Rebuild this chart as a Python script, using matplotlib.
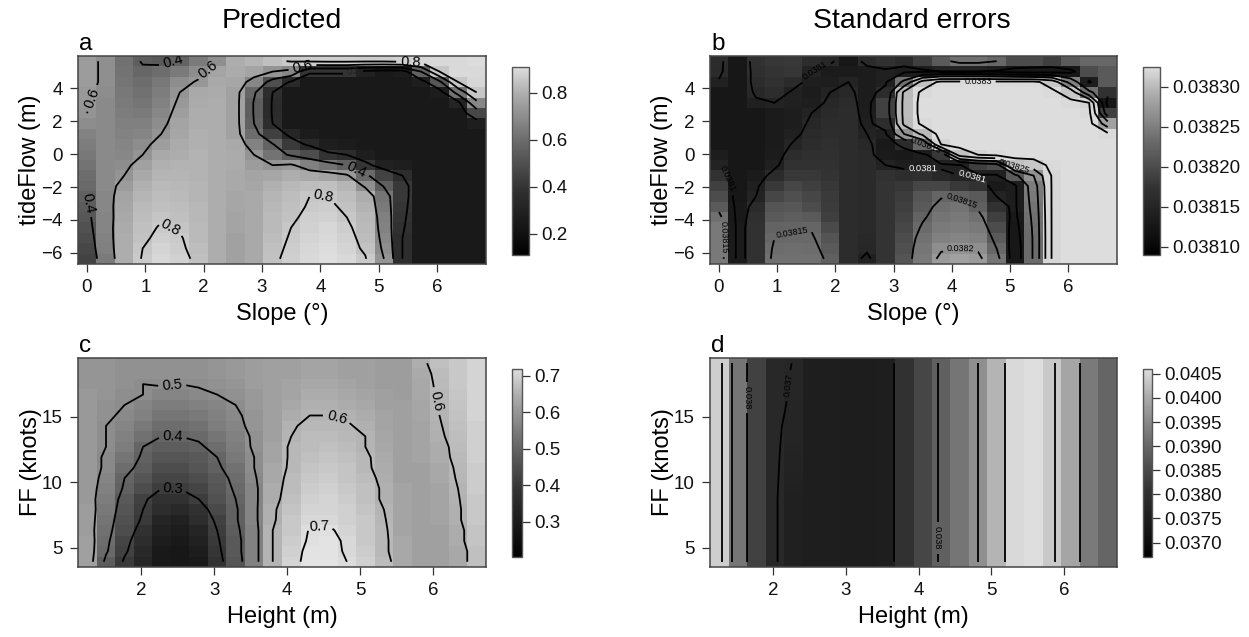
#!/usr/bin/env python3
"""Predicted values and standard errors as grey grids with contour lines."""

import numpy as np
import matplotlib
matplotlib.use("Agg")
import matplotlib.pyplot as plt
from matplotlib.cm import ScalarMappable
from matplotlib.colors import LinearSegmentedColormap, Normalize

# grid axes
slope = np.linspace(0.0, 6.68, 22)
tide_flow = np.linspace(-6.355, 5.635, 20)
height = np.linspace(1.26, 6.60, 22)
wind_ff = np.linspace(3.95, 19.10, 20)

# panel a, one list per column, bottom row first
predicted_slope = [
    [.28, .30, .32, .34, .36, .38, .40, .43, .45, .47, .49, .51, .53, .57, .60, .61, .62, .63, .63, .63],
    [.50, .52, .53, .54, .54, .55, .55, .56, .56, .56, .56, .56, .56, .56, .56, .56, .57, .58, .58, .58],
    [.70, .70, .70, .69, .68, .67, .66, .63, .60, .57, .55, .54, .53, .52, .51, .50, .49, .48, .47, .46],
    [.81, .80, .78, .77, .76, .75, .73, .71, .68, .65, .60, .57, .54, .52, .50, .48, .46, .45, .42, .39],
    [.86, .85, .83, .81, .79, .77, .76, .75, .73, .71, .68, .64, .60, .57, .55, .53, .51, .49, .45, .37],
    [.84, .82, .81, .79, .77, .76, .75, .74, .73, .72, .70, .69, .67, .66, .64, .62, .60, .57, .50, .41],
    [.77, .76, .75, .75, .74, .74, .73, .73, .72, .72, .72, .71, .71, .70, .70, .69, .68, .61, .57, .50],
    [.70, .70, .70, .70, .70, .70, .70, .70, .70, .70, .70, .70, .70, .70, .70, .70, .69, .68, .66, .58],
    [.65, .65, .65, .66, .66, .67, .67, .68, .68, .69, .69, .68, .65, .65, .65, .65, .65, .67, .69, .70],
    [.68, .68, .68, .68, .68, .68, .68, .67, .66, .63, .60, .53, .45, .40, .39, .39, .42, .55, .66, .73],
    [.78, .77, .76, .75, .75, .74, .73, .71, .67, .60, .47, .41, .27, .20, .19, .19, .20, .33, .60, .77],
    [.83, .82, .81, .80, .78, .77, .76, .74, .70, .62, .38, .25, .17, .12, .12, .12, .12, .18, .55, .81],
    [.87, .86, .85, .84, .83, .81, .80, .76, .68, .52, .32, .18, .13, .12, .12, .12, .12, .12, .22, .82],
    [.89, .88, .87, .86, .84, .82, .80, .77, .66, .47, .22, .14, .12, .12, .12, .12, .12, .12, .22, .83],
    [.87, .85, .84, .82, .80, .78, .76, .73, .62, .40, .20, .13, .12, .12, .12, .12, .12, .12, .22, .83],
    [.81, .78, .76, .75, .74, .72, .70, .58, .43, .23, .14, .12, .12, .12, .12, .12, .12, .12, .15, .82],
    [.60, .57, .55, .53, .52, .50, .48, .39, .28, .15, .12, .12, .12, .12, .12, .12, .12, .12, .12, .82],
    [.20, .20, .20, .21, .22, .23, .24, .24, .20, .14, .12, .12, .12, .12, .12, .12, .12, .12, .13, .84],
    [.12, .12, .12, .12, .12, .12, .12, .12, .12, .12, .12, .12, .12, .12, .12, .12, .12, .14, .40, .86],
    [.12, .12, .12, .12, .12, .12, .12, .12, .12, .12, .12, .12, .12, .12, .12, .12, .13, .36, .80, .87],
    [.12, .12, .12, .12, .12, .12, .12, .12, .12, .12, .12, .12, .12, .12, .12, .16, .47, .80, .87, .87],
    [.12, .12, .12, .12, .12, .12, .12, .12, .12, .12, .12, .12, .12, .14, .30, .55, .80, .86, .87, .88],
]

# panel b, in units of 1e-5 above 0.038
stderr_slope = [
    [17, 17, 17, 17, 16, 14, 13, 12, 11, 10, 9.5, 9, 9, 9, 9, 9, 9, 9.8, 10.5, 10.6],
    [9.3, 9.3, 9.3, 9.3, 9.2, 9.2, 9, 8.5, 8.5, 8.5, 8.5, 8.5, 8.5, 8.5, 8.5, 8.5, 8.5, 8.5, 8, 8],
    [11, 11, 11, 11, 10.8, 10.5, 10, 9.7, 9.3, 9, 9, 9, 9, 9, 9, 9.7, 10.3, 10.6, 10.8, 11],
    [16, 15.6, 15, 14.6, 14, 13.5, 12.5, 11.5, 10.5, 9.7, 9.4, 9.3, 9.3, 9.3, 9.3, 10, 10.7, 11, 11.2, 11.3],
    [16, 15.8, 15.3, 14.7, 14.3, 13.8, 13.2, 12.5, 11.5, 11, 10.6, 10.1, 9.7, 9.5, 9.5, 9.7, 9.8, 10.5, 11.3, 11.5],
    [16, 15.7, 15.3, 14.8, 14, 13, 12.5, 12, 11.5, 11, 10.8, 10.6, 10.4, 10.2, 10, 9.6, 9.4, 9.6, 10, 10.6],
    [14.5, 14, 13.5, 12.8, 12, 11.8, 11.6, 11.4, 11.2, 11, 10.9, 10.8, 10.7, 10.6, 10.4, 10.2, 10, 9.5, 9.3, 10.3],
    [10.6, 10.6, 10.6, 10.6, 10.6, 10.6, 10.6, 10.6, 10.6, 10.6, 10.6, 10.6, 10.6, 10.6, 10.6, 10.5, 10.3, 10, 9.3, 9],
    [9.7, 10.2, 10.3, 10.4, 10.4, 10.4, 10.4, 10.4, 10.4, 10.4, 10.4, 10.3, 10, 9.7, 9.5, 9.4, 9.4, 9.4, 9.4, 10.5],
    [11.2, 11.2, 11.2, 11.2, 11.2, 11.2, 11.2, 11.2, 11, 10, 9.3, 9.2, 9.7, 10.7, 12.2, 12.2, 10.6, 9.7, 9.7, 11],
    [13.5, 13.2, 13, 12.6, 12.3, 12, 11.8, 11.4, 10.7, 9.6, 9.2, 10.5, 20, 26, 26.3, 26.3, 26, 16, 9.5, 10.5],
    [17, 16.8, 16.2, 15.4, 14.6, 14, 13.6, 12.5, 10.8, 9.6, 9.5, 15, 26, 31, 31.4, 31.4, 31, 27, 9.5, 12],
    [21, 19.5, 18, 17.2, 16.5, 15.8, 14.8, 12.5, 10.3, 9.8, 11.5, 30, 31.5, 31.5, 31.5, 31.5, 31.5, 31, 10, 14],
    [22, 20, 18.5, 17.5, 17, 16.5, 14.5, 11.5, 10, 9.8, 27, 31.5, 31.5, 31.5, 31.5, 31.5, 31.5, 31, 10, 16],
    [21, 19.5, 18, 17, 16, 14.5, 14, 11, 9.8, 12, 30, 31.5, 31.5, 31.5, 31.5, 31.5, 31.5, 31, 10, 16],
    [16.5, 15, 14, 13, 12, 11, 10, 9.2, 9.7, 13, 31, 31.5, 31.5, 31.5, 31.5, 31.5, 31.5, 31, 9.5, 15],
    [7.5, 7.5, 8, 8.5, 9.2, 9.5, 9.5, 9.5, 14, 27, 31.5, 31.5, 31.5, 31.5, 31.5, 31.5, 31.5, 31, 8.5, 13],
    [15.5, 15.5, 15.5, 15.7, 16, 16.5, 17, 17.5, 20, 28, 31.5, 31.5, 31.5, 31.5, 31.5, 31.5, 31.5, 31, 8, 13],
    [30.5, 30.5, 30.5, 30.5, 30.5, 30.5, 30.5, 30.5, 30.5, 31, 31.5, 31.5, 31.5, 31.5, 31.5, 31.5, 31, 28, 8.5, 12],
    [31.5, 31.5, 31.5, 31.5, 31.5, 31.5, 31.5, 31.5, 31.5, 31.5, 31.5, 31.5, 31.5, 31.5, 31.5, 31, 28, 18, 9, 14],
    [31.5, 31.5, 31.5, 31.5, 31.5, 31.5, 31.5, 31.5, 31.5, 31.5, 31.5, 31.5, 31.5, 31.5, 31, 30, 16, 9.5, 13, 15],
    [31.5, 31.5, 31.5, 31.5, 31.5, 31.5, 31.5, 31.5, 31.5, 31.5, 31.5, 31.5, 31, 22, 12, 8.5, 11, 14, 14, 15],
]

# panel c
predicted_height = [
    [.55, .55, .55, .54, .54, .54, .53, .53, .53, .53, .53, .53, .53, .53, .53, .53, .53, .52, .52, .52],
    [.38, .41, .42, .43, .44, .45, .46, .47, .48, .49, .49, .50, .50, .50, .51, .51, .52, .52, .52, .52],
    [.29, .31, .32, .34, .35, .36, .37, .39, .40, .42, .44, .46, .47, .48, .49, .50, .505, .51, .51, .51],
    [.24, .25, .26, .27, .29, .30, .31, .34, .36, .38, .39, .40, .43, .45, .47, .48, .50, .50, .51, .51],
    [.21, .21, .22, .23, .24, .26, .27, .30, .32, .34, .36, .38, .40, .42, .44, .46, .48, .505, .51, .51],
    [.20, .20, .21, .22, .23, .25, .27, .30, .32, .34, .36, .38, .40, .42, .44, .46, .48, .50, .51, .51],
    [.21, .22, .23, .24, .26, .27, .30, .32, .34, .36, .37, .39, .41, .43, .45, .47, .49, .505, .51, .51],
    [.27, .28, .29, .30, .31, .33, .35, .36, .37, .39, .40, .42, .44, .46, .47, .48, .50, .51, .52, .52],
    [.36, .37, .37, .38, .39, .39, .40, .41, .42, .43, .45, .46, .47, .48, .49, .50, .51, .52, .53, .53],
    [.47, .47, .47, .47, .48, .48, .48, .48, .49, .50, .50, .51, .51, .52, .52, .53, .53, .54, .54, .54],
    [.60, .60, .60, .60, .59, .59, .58, .58, .57, .57, .56, .56, .55, .55, .55, .55, .55, .55, .55, .55],
    [.68, .67, .66, .65, .65, .64, .63, .62, .62, .61, .61, .61, .60, .595, .58, .57, .56, .56, .55, .55],
    [.72, .72, .71, .705, .69, .68, .67, .66, .65, .64, .63, .62, .62, .61, .60, .59, .58, .57, .56, .56],
    [.73, .73, .72, .71, .69, .68, .68, .67, .66, .65, .64, .63, .62, .61, .60, .59, .58, .57, .56, .56],
    [.70, .69, .69, .68, .67, .67, .66, .65, .64, .64, .63, .62, .61, .605, .595, .58, .57, .56, .55, .55],
    [.67, .66, .65, .65, .65, .64, .63, .63, .62, .61, .61, .60, .60, .59, .58, .57, .56, .55, .55, .55],
    [.62, .61, .61, .61, .605, .60, .59, .59, .585, .58, .575, .57, .565, .56, .56, .55, .55, .54, .54, .54],
    [.57, .57, .57, .56, .56, .56, .56, .56, .55, .55, .55, .55, .55, .55, .55, .55, .54, .54, .54, .54],
    [.55, .55, .55, .55, .55, .55, .55, .55, .55, .55, .56, .56, .56, .56, .565, .565, .57, .57, .575, .585],
    [.55, .55, .55, .55, .56, .56, .56, .56, .57, .57, .58, .58, .59, .595, .60, .605, .61, .615, .62, .63],
    [.57, .57, .58, .58, .59, .59, .595, .60, .605, .61, .615, .62, .625, .63, .635, .64, .645, .65, .65, .65],
    [.63, .63, .64, .64, .65, .65, .65, .66, .66, .66, .67, .67, .67, .67, .68, .68, .68, .68, .68, .68],
]

# panel d, columns barely change with FF; column 4 is the one that does
stderr_height = [.0402, .0385, .0375, .03702, .0369, .03685, .03685, .03683, .03682, .03684, .0372,
                 .0376, .0381, .0385, .0390, .0397, .0404, .0405, .0401, .0394, .0386, .0382]
stderr_height_col4 = [.03688, .03688, .03688, .03688, .03688, .03688, .03688, .0369, .036918, .03693,
                      .03694, .03695, .03696, .036968, .03698, .036987, .03699, .036993, .036995, .036998]

W, H = 1249, 637
DARK = "#333333"

plt.rcParams["font.family"] = ["Liberation Sans", "DejaVu Sans"]

# the cells are drawn lighter than the gradient in the key
cell_cmap = LinearSegmentedColormap.from_list("cells", [(0.09, 0.09, 0.09), (0.89, 0.89, 0.89)])
cell_cmap_b = LinearSegmentedColormap.from_list(
    "cells_b", [(p, (v, v, v)) for p, v in [(0, 0.09), (0.25, 0.40), (0.5, 0.60), (1, 0.89)]])
bar_cmap = LinearSegmentedColormap.from_list(
    "bar", [(p, (v, v, v)) for p, v in
            [(0, 0.0), (0.12, 0.07), (0.36, 0.20), (0.61, 0.42), (0.86, 0.68), (1, 0.87)]])

fig = plt.figure(figsize=(W / 100, H / 100), dpi=100)


def px_axes(left, top, right, bottom):
    return fig.add_axes([left / W, 1 - bottom / H, (right - left) / W, (bottom - top) / H])


def panel(box, xx, yy, zz, lims, levels, xlim, ylim, xticks, yticks, xlabel, ylabel, letter, cmap=cell_cmap):
    ax = px_axes(*box)
    ax.pcolormesh(xx, yy, zz, cmap=cmap, vmin=lims[0], vmax=lims[1], shading="nearest")
    # one contour set per level so each level can get its own labels
    lines = {}
    for level in levels:
        lines[level] = ax.contour(xx, yy, zz, levels=[level], colors="k", linewidths=1.3)
    ax.set_xlim(*xlim)
    ax.set_ylim(*ylim)
    ax.set_xticks(xticks)
    ax.set_yticks(yticks)
    ax.tick_params(length=6, width=0.9, color=DARK, labelsize=13.5, pad=5, labelcolor="#111111")
    ax.set_xlabel(xlabel, fontsize=17, labelpad=5)
    ax.set_ylabel(ylabel, fontsize=17, labelpad=0)
    for spine in ax.spines.values():
        spine.set_color("#444444")
        spine.set_linewidth(1.1)
    fig.text((box[0] + 1) / W, 1 - (box[1] - 6) / H, letter, fontsize=17.5, ha="left", va="baseline")
    return ax, lines


def key(box, lims, ticks, fmt):
    cax = px_axes(*box)
    bar = fig.colorbar(ScalarMappable(Normalize(*lims), bar_cmap), cax=cax, ticks=ticks, format=fmt)
    bar.outline.set_edgecolor("#555555")
    bar.outline.set_linewidth(1.0)
    cax.tick_params(length=6, width=0.9, color=DARK, labelsize=13.5, pad=3, labelcolor="#111111")


def labels(ax, cs, where, size, color="k"):
    ax.clabel(cs, manual=where, fontsize=size, colors=color, fmt="%g", inline_spacing=4)


# a
z_a = np.array(predicted_slope).T
lim_a = (0.11, 0.91)
ax_a, cs_a = panel((78, 56, 486, 264), slope, tide_flow, z_a, lim_a, [0.2, 0.4, 0.6, 0.8],
                   (-0.154, 6.84), (-6.67, 5.95), range(7), range(-6, 5, 2),
                   "Slope (°)", "tideFlow (m)", "a")
labels(ax_a, cs_a[0.4], [(1.48, 5.46), (0.05, -2.96), (4.6, -1.07)], 10.5)
labels(ax_a, cs_a[0.6], [(0.14, 3.32), (2.11, 4.97), (3.69, 5.34)], 10.5)
labels(ax_a, cs_a[0.8], [(5.54, 5.27), (4.05, -2.96), (1.39, -4.73)], 10.5)
labels(ax_a, cs_a[0.2], [(4.56, 4.85)], 6.5, "#222222")
key((512, 67, 529, 255), lim_a, [0.2, 0.4, 0.6, 0.8], "%.1f")

# b
z_b = 0.038 + np.array(stderr_slope).T * 1e-5
lim_b = (0.03809, 0.038325)
ax_b, cs_b = panel((710, 56, 1117, 264), slope, tide_flow, z_b, lim_b,
                   [0.0381, 0.03815, 0.0382, 0.03825, 0.0383],
                   (-0.154, 6.84), (-6.67, 5.95), range(7), range(-6, 5, 2),
                   "Slope (°)", "tideFlow (m)", "b", cell_cmap_b)
labels(ax_b, cs_b[0.0381], [(1.65, 5.03), (0.07, -1.55)], 6.5)
labels(ax_b, cs_b[0.0381], [(3.5, -1.07), (4.35, -1.25)], 6.8, "white")
labels(ax_b, cs_b[0.03815], [(3.54, 0.4), (4.09, -3.38), (1.27, -5.03), (0.07, -5.03)], 6.5)
labels(ax_b, cs_b[0.0382], [(4.14, -5.95)], 6.5)
labels(ax_b, cs_b[0.03825], [(5.05, -0.82)], 6.5)
labels(ax_b, cs_b[0.0383], [(4.45, 4.54)], 6.5)
key((1143, 67, 1160, 255), lim_b, [0.0381, 0.03815, 0.0382, 0.03825, 0.0383], "%.5f")

# c
z_c = np.array(predicted_height).T
lim_c = (0.204, 0.719)
ax_c, cs_c = panel((78, 358, 486, 567), height, wind_ff, z_c, lim_c, [0.3, 0.4, 0.5, 0.6, 0.7],
                   (1.13, 6.73), (3.55, 19.5), range(2, 7), [5, 10, 15],
                   "Height (m)", "FF (knots)", "c")
labels(ax_c, cs_c[0.5], [(2.43, 17.14)], 10.5)
labels(ax_c, cs_c[0.4], [(2.43, 13.4)], 10.5)
labels(ax_c, cs_c[0.3], [(2.43, 9.66)], 10.5)
labels(ax_c, cs_c[0.6], [(4.69, 15.1), (6.04, 16.2)], 10.5)
labels(ax_c, cs_c[0.7], [(4.45, 6.5)], 10.5)
key((512, 369, 522, 557), lim_c, [0.3, 0.4, 0.5, 0.6, 0.7], "%.1f")

# d
z_d = np.tile(stderr_height, (len(wind_ff), 1))
z_d[:, 4] = stderr_height_col4
lim_d = (0.0367, 0.0406)
ax_d, cs_d = panel((710, 358, 1117, 567), height, wind_ff, z_d, lim_d, [0.037, 0.038, 0.039, 0.04],
                   (1.13, 6.73), (3.55, 19.5), range(2, 7), [5, 10, 15],
                   "Height (m)", "FF (knots)", "d")
labels(ax_d, cs_d[0.038], [(1.64, 16.5), (4.33, 5.76)], 6.7)
labels(ax_d, cs_d[0.037], [(2.2, 17.4)], 6.7)
key((1143, 369, 1152, 557), lim_d, [0.037, 0.0375, 0.038, 0.0385, 0.039, 0.0395, 0.04, 0.0405], "%.4f")

fig.text(282 / W, 1 - 21 / H, "Predicted", fontsize=20.5, ha="center", va="center")
fig.text(912 / W, 1 - 21 / H, "Standard errors", fontsize=20.5, ha="center", va="center")

fig.savefig("out.png", dpi=100)
